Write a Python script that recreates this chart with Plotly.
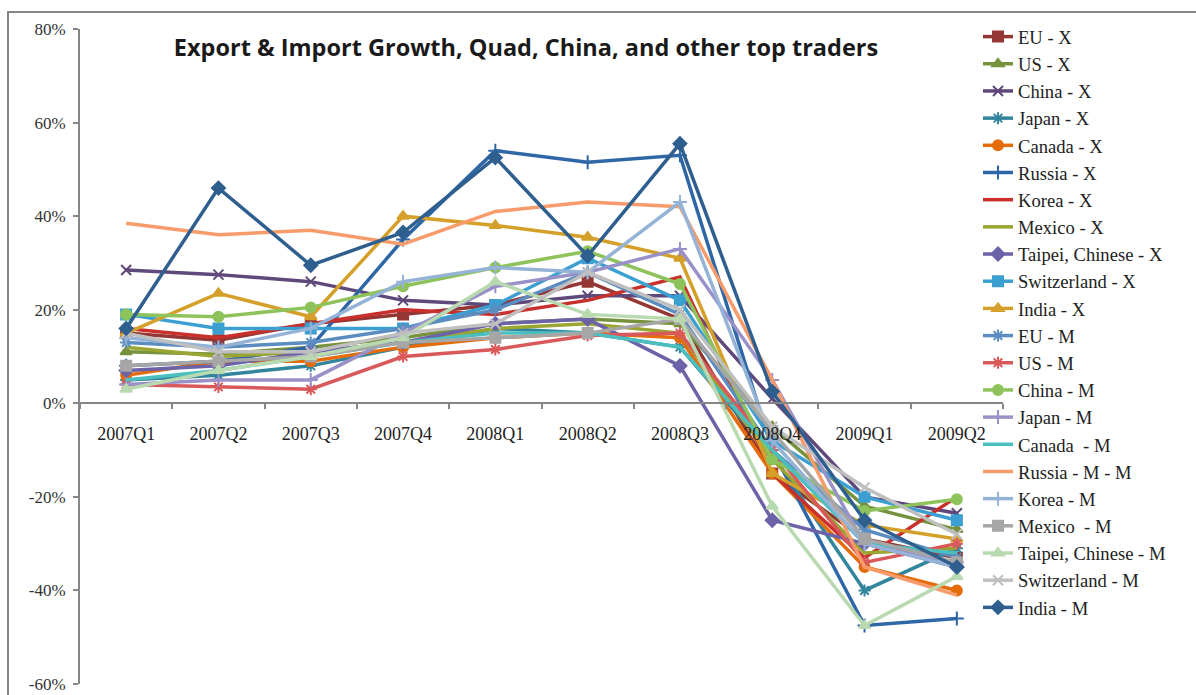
import plotly.graph_objects as go

quarters = ["2007Q1", "2007Q2", "2007Q3", "2007Q4", "2008Q1", "2008Q2",
            "2008Q3", "2008Q4", "2009Q1", "2009Q2"]

eu_x = [15, 13.5, 17, 19, 21, 26, 18, -15, -29, -33]
us_x = [11, 10.5, 12, 14, 17, 18, 17, -5, -22, -27]
china_x = [28.5, 27.5, 26, 22, 21, 23, 23, 1, -20, -23.5]
japan_x = [5, 6, 8, 12, 16, 15, 12, -11, -40, -31]
canada_x = [6, 9, 9, 12, 14, 15, 14, -15, -35, -40]
russia_x = [8, 9, 12, 35, 54, 51.5, 53, -10, -47.5, -46]
korea_x = [16, 14, 17, 20, 19, 22, 27, -15, -33, -20]
mexico_x = [12, 10, 11, 13, 16, 17, 15, -12, -32, -31]
taipei_x = [7, 8, 11, 13, 17, 18, 8, -25, -30, -35]
switz_x = [19, 16, 16, 16, 21, 31, 22, -8, -20, -25]
india_x = [15, 23.5, 18.5, 40, 38, 35.5, 31, -15, -26, -29]
eu_m = [13, 12, 13, 16, 20, 28, 19, -10, -27, -33]
us_m = [4, 3.5, 3, 10, 11.5, 14.5, 15, -10, -34, -30]
china_m = [19, 18.5, 20.5, 25, 29, 32.5, 25.5, -12, -23, -20.5]
japan_m = [4, 5, 5, 15, 25, 28, 33, 5, -30, -34]
canada_m = [5, 7, 10, 13, 15, 15, 12, -10, -30, -32]
russia_m = [38.5, 36, 37, 34, 41, 43, 42, 5, -35, -41]
korea_m = [14, 12, 16, 26, 29, 28, 43, -8, -30, -35]
mexico_m = [8, 9, 10, 13, 14, 15, 18, -6, -29, -34]
taipei_m = [3, 7, 10, 14, 26, 19, 18, -22, -47.5, -37]
switz_m = [15, 11, 11, 15, 17, 28, 20, -5, -18, -28]
india_m = [16, 46, 29.5, 36.5, 52.5, 31.5, 55.5, 2.5, -25, -35]

y_ticks = [80, 60, 40, 20, 0, -20, -40, -60]
y_tick_text = ["80%", "60%", "40%", "20%", "0%", "-20%", "-40%", "-60%"]

series = [
    ("EU - X", eu_x, "#943634", "square"),
    ("US - X", us_x, "#76923C", "triangle-up"),
    ("China - X", china_x, "#5F497A", "x-thin-open"),
    ("Japan - X", japan_x, "#31859C", "asterisk-open"),
    ("Canada - X", canada_x, "#E46C0A", "circle"),
    ("Russia - X", russia_x, "#2F67A6", "cross-thin-open"),
    ("Korea - X", korea_x, "#C9302C", None),
    ("Mexico - X", mexico_x, "#9BA532", None),
    ("Taipei, Chinese - X", taipei_x, "#6B62A8", "diamond"),
    ("Switzerland - X", switz_x, "#3C9FD2", "square"),
    ("India - X", india_x, "#D4A02A", "triangle-up"),
    ("EU - M", eu_m, "#5B8DC0", "asterisk-open"),
    ("US - M", us_m, "#D9595B", "asterisk-open"),
    ("China - M", china_m, "#8DC35A", "circle"),
    ("Japan - M", japan_m, "#9A91C8", "cross-thin-open"),
    ("Canada  - M", canada_m, "#4BBFBF", None),
    ("Russia - M - M", russia_m, "#F79B6B", None),
    ("Korea - M", korea_m, "#95B3D7", "cross-thin-open"),
    ("Mexico  - M", mexico_m, "#A6A6A6", "square"),
    ("Taipei, Chinese - M", taipei_m, "#B9D9B0", "triangle-up"),
    ("Switzerland - M", switz_m, "#BFBFBF", "x-thin-open"),
    ("India - M", india_m, "#2F5F8F", "diamond"),
]

W, H = 1196, 695
ML, MR, MT, MB = 80, 193, 29, 11
PW, PH = W - ML - MR, H - MT - MB
PB = H - MB  # plot bottom pixel

fig = go.Figure()
for name, vals, color, sym in series:
    mode = "lines+markers" if sym else "lines"
    marker = dict(symbol=sym or "circle", size=10, color=color,
                  line=dict(color=color, width=2))
    fig.add_trace(go.Scatter(x=quarters, y=vals, name=name, mode=mode,
                             line=dict(color=color, width=3.5),
                             marker=marker))

fig.update_layout(
    width=W, height=H,
    margin=dict(l=ML, r=MR, t=MT, b=MB),
    paper_bgcolor="white", plot_bgcolor="white",
    title=dict(text="<b>Export & Import Growth, Quad, China, and other top traders</b>",
               x=(526 - ML) / PW, xref="paper", xanchor="center",
               y=1 - 48 / H, yanchor="middle",
               font=dict(family="Open Sans", size=23.5, color="#1a1a1a")),
    showlegend=True,
    legend=dict(x=(978 - ML) / PW, xanchor="left", y=(PB - 18) / PH,
                yanchor="top", bgcolor="rgba(0,0,0,0)", maxheight=690,
                font=dict(family="Liberation Serif", size=18.6, color="#222"),
                tracegroupgap=0, itemwidth=30),
    xaxis=dict(type="category", anchor="free", position=60 / 140,
               showline=True, linecolor="#868686", linewidth=2,
               ticks="outside", tickson="boundaries", ticklen=5,
               tickcolor="#868686", tickwidth=2, showgrid=False,
               zeroline=False, range=[-0.5, 9.5], ticklabelstandoff=14,
               automargin=False,
               tickfont=dict(family="Liberation Serif", size=18, color="#222")),
    yaxis=dict(range=[-60, 80], tickvals=y_ticks, ticktext=y_tick_text,
               showline=True, ticklabeloverflow="allow", automargin=False,
               linecolor="#868686", linewidth=2, ticks="outside", ticklen=5,
               tickcolor="#868686", tickwidth=2, showgrid=False,
               zeroline=False, ticklabelstandoff=4,
               tickfont=dict(family="Liberation Serif", size=17, color="#333")),
)

fig.add_shape(type="rect", xref="paper", yref="paper",
              x0=(8 - ML) / PW, x1=(W + 10 - ML) / PW,
              y0=(PB - H - 10) / PH, y1=(PB - 12) / PH,
              line=dict(color="#868686", width=2), layer="below")

fig.write_html("out.html")
